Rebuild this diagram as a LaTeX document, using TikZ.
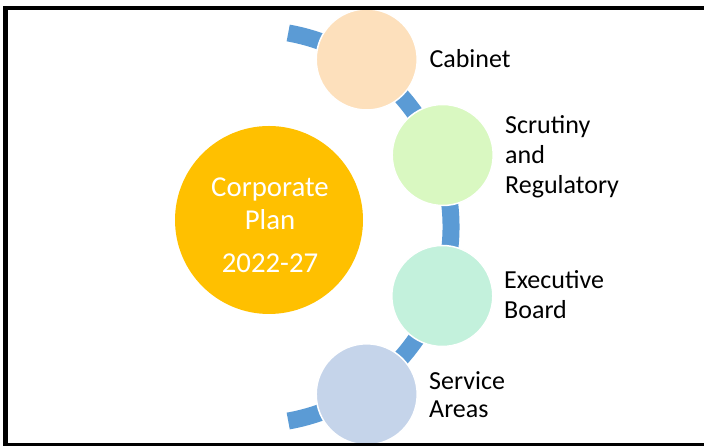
\documentclass[tikz,border=0pt]{standalone}
\usepackage{fontspec}
\setmainfont{Carlito}
\begin{document}
\begin{tikzpicture}[x=1pt,y=1pt,
  frame/.style={draw=black,line width=4.5pt},
  link/.style={draw=linkblue,line width=17pt},
  stage/.style={circle,minimum size=101pt,inner sep=0pt,draw=white,line width=1.5pt},
  lbl/.style={anchor=base west,inner sep=0pt,font=\fontsize{26}{30}\selectfont,text=black},
  ctext/.style={anchor=base,inner sep=0pt,font=\fontsize{28.8}{33}\selectfont,text=white}]
\definecolor{linkblue}{HTML}{5B9BD5}
\definecolor{plan}{HTML}{FFC000}
\definecolor{cab}{HTML}{FDE0BC}
\definecolor{scr}{HTML}{D9F8C1}
\definecolor{exe}{HTML}{C3F1DC}
\definecolor{ser}{HTML}{C5D4EA}
\useasboundingbox (0,0) rectangle (704,446);
\coordinate (ctr) at (254,219);
\draw[link] ([shift={(80:197)}]ctr) arc[start angle=80,end angle=-80,radius=197];
\node[circle,fill=plan,minimum size=188pt,inner sep=0pt] (plan) at (269,226) {};
\node[stage,fill=cab] (cabinet) at (366.7,386.5) {};
\node[stage,fill=scr] (scrutiny) at (442.7,291) {};
\node[stage,fill=exe] (exec) at (442.3,150) {};
\node[stage,fill=ser] (service) at (366.7,51.7) {};
\node[ctext] (t1) at (270,249.3) {Corporate};
\node[ctext] (t2) at (270,216) {Plan};
\node[ctext] (t3) at (270,173.3) {2022-27};
\node[lbl] (l1) at (429.3,378.7) {Cabinet};
\node[lbl] (l2) at (505,312.7) {Scrutiny};
\node[lbl] (l3) at (505,282.7) {and};
\node[lbl] (l4) at (505,252.7) {Regulatory};
\node[lbl] (l5) at (504,157) {Executive};
\node[lbl] (l6) at (504,127) {Board};
\node[lbl] (l7) at (429,56.7) {Service};
\node[lbl] (l8) at (429,28.7) {Areas};
\begin{scope}
\clip (0,0) rectangle (704,446);
\draw[frame] (5.5,438) rectangle (712,1.2);
\end{scope}
\end{tikzpicture}
\end{document}
